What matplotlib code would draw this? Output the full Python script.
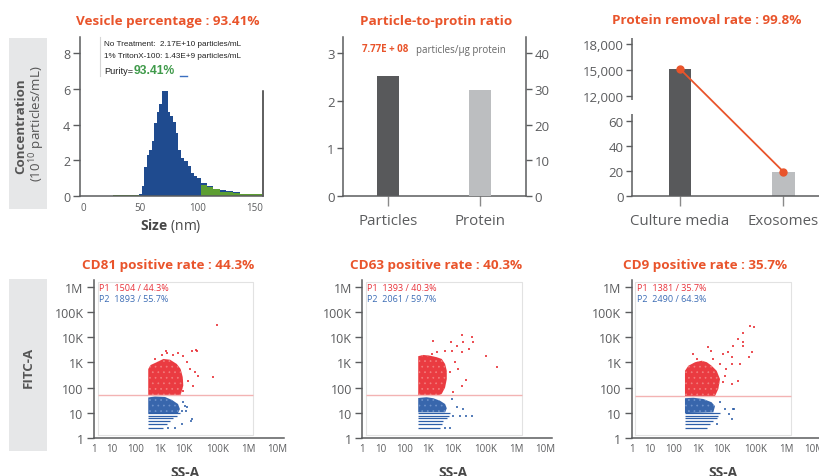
import numpy as np
import matplotlib
matplotlib.use("Agg")
import matplotlib.pyplot as plt
from matplotlib.lines import Line2D
from matplotlib.patches import Rectangle

# ---------------- data ----------------
# NTA size distribution, untreated sample (10^10 particles/mL)
vesicle_size_edges = [48.8, 51.1, 53.5, 55.5, 57.5, 59.9, 62.2, 64.3, 66.6, 68.6,
                      73.9, 75.9, 78.8, 80.9, 82.6, 85.5, 88.4, 91.4, 94.3, 96.9,
                      99.2, 103.0, 108.0, 113.2, 119.6, 125.0, 131.3, 137.1, 141.0]
vesicle_conc = [0.10, 0.58, 1.60, 2.30, 2.60, 3.10, 4.10, 4.70, 5.15, 5.85,
                4.70, 4.50, 4.15, 3.55, 2.60, 2.15, 1.98, 1.66, 1.27, 1.14,
                1.03, 0.73, 0.55, 0.40, 0.34, 0.30, 0.22, 0.10]
# after 1% TritonX-100
triton_size_edges = [26.0, 50.0, 103.0, 108.0, 113.2, 119.6, 131.3, 137.1, 156.0]
triton_conc = [0.05, 0.0, 0.63, 0.49, 0.39, 0.24, 0.17, 0.11]
size_ticks = [0, 50, 100, 150]
conc_ticks = [0, 2, 4, 6, 8]

ratio_categories = ["Particles", "Protein"]
particle_value = 2.52     # left axis
protein_value = 29.8      # right axis
ratio_left_ticks = [0, 1, 2, 3]
ratio_right_ticks = [0, 10, 20, 30, 40]

removal_categories = ["Culture media", "Exosomes"]
removal_values = [15115, 19.6]
removal_ticks = [0, 20, 40, 60, 12000, 15000, 18000]
removal_tick_labels = ["0", "20", "40", "60", "12,000", "15,000", "18,000"]

ss_ticks = [1, 10, 100, 1e3, 1e4, 1e5, 1e6, 1e7]
ss_tick_labels = ["1", "10", "100", "1K", "10K", "100K", "1M", "10M"]
fitc_ticks = [1, 10, 100, 1e3, 1e4, 1e5, 1e6]
fitc_tick_labels = ["1", "10", "100", "1K", "10K", "100K", "1M"]
stripe_log_fitc = [0.385, 0.556, 0.687, 0.795, 0.886, 0.98]

# CD81 (values in log10 units)
cd81_threshold = 51
cd81_left_log_ss = 2.51
cd81_red_core_ss = [2.51, 2.51, 2.61, 2.86, 3.14, 3.42, 3.70, 3.86, 3.95, 3.97, 3.86]
cd81_red_core_fitc = [1.71, 2.74, 2.90, 3.01, 3.14, 3.11, 2.94, 2.74, 2.41, 2.08, 1.71]
cd81_red_sparse_ss = [3.25, 3.76, 3.97, 4.23, 4.35, 4.38, 4.08, 4.18, 4.33, 4.43, 4.13, 4.28,
                      3.97, 4.87, 4.99, 3.10, 3.30, 3.55, 2.80]
cd81_red_sparse_fitc = [3.44, 3.37, 3.27, 3.47, 3.50, 3.44, 3.01, 2.74, 2.61, 2.48, 2.28, 2.08,
                        1.88, 2.41, 4.49, 3.30, 3.36, 3.30, 3.15]
cd81_blue_core_ss = [2.51, 2.79, 3.21, 3.50, 3.75, 3.83, 3.75, 2.51]
cd81_blue_core_fitc = [1.61, 1.65, 1.63, 1.51, 1.35, 1.15, 0.99, 0.97]
cd81_stripe_end_ss = [3.14, 3.28, 3.42, 3.56, 3.70, 3.83]
cd81_blue_sparse_ss = [3.97, 4.03, 4.08, 3.90, 4.06, 4.23, 4.20, 3.62, 3.35, 3.90]
cd81_blue_sparse_fitc = [1.42, 1.26, 1.22, 1.08, 1.08, 0.75, 0.69, 0.385, 0.385, 0.556]

# CD63
cd63_threshold = 51
cd63_left_log_ss = 2.58
cd63_red_core_ss = [2.58, 2.58, 2.79, 3.07, 3.35, 3.56, 3.70, 3.77, 3.77, 3.70, 3.56, 3.46]
cd63_red_core_fitc = [1.71, 3.25, 3.30, 3.27, 3.21, 3.14, 2.94, 2.67, 2.34, 2.01, 1.75, 1.71]
cd63_red_sparse_ss = [4.28, 3.18, 3.95, 4.15, 4.33, 4.58, 4.61, 3.70, 3.97, 4.30, 4.51, 5.01,
                      5.35, 4.18, 4.41, 4.28, 4.03, 3.91, 4.08, 3.14, 3.35]
cd63_red_sparse_fitc = [4.09, 3.84, 3.80, 3.64, 3.83, 4.00, 3.83, 3.47, 3.47, 3.43, 3.54, 3.27,
                        2.81, 2.74, 2.30, 2.05, 1.82, 2.61, 3.01, 3.34, 3.40]
cd63_blue_core_ss = [2.58, 2.93, 3.21, 3.49, 3.70, 3.77, 3.70, 2.58]
cd63_blue_core_fitc = [1.59, 1.62, 1.58, 1.48, 1.35, 1.18, 1.02, 1.02]
cd63_stripe_end_ss = [3.49, 3.56, 3.63, 3.77, 3.85, 3.91]
cd63_blue_sparse_ss = [4.13, 4.33, 4.03, 4.23, 4.40, 4.60, 3.91, 3.70, 3.97]
cd63_blue_sparse_fitc = [1.22, 1.15, 0.89, 0.89, 0.89, 0.89, 0.385, 0.385, 1.55]

# CD9
cd9_threshold = 46
cd9_left_log_ss = 2.47
cd9_red_core_ss = [2.47, 2.47, 2.61, 2.89, 3.17, 3.38, 3.58, 3.79, 3.93, 3.86, 3.72]
cd9_red_core_fitc = [1.66, 2.67, 2.87, 3.01, 3.07, 3.01, 2.87, 2.67, 2.34, 1.95, 1.66]
cd9_red_sparse_ss = [4.85, 4.96, 4.63, 4.50, 4.63, 4.65, 4.90, 4.82, 4.35, 4.20, 4.05, 4.30,
                     3.44, 3.54, 2.82, 2.96, 3.65, 3.93, 4.13, 4.30, 4.50, 4.30, 4.05, 4.55, 4.10]
cd9_red_sparse_fitc = [4.44, 4.41, 4.17, 3.93, 3.80, 3.67, 3.43, 3.21, 3.67, 3.40, 3.34, 3.21,
                       3.60, 3.47, 3.34, 3.14, 3.14, 2.94, 2.74, 2.94, 2.28, 2.15, 2.21, 2.94, 2.48]
cd9_blue_core_ss = [2.47, 2.82, 3.23, 3.58, 3.72, 3.65, 2.47]
cd9_blue_core_fitc = [1.58, 1.60, 1.55, 1.42, 1.26, 1.02, 0.99]
cd9_stripe_end_ss = [3.37, 3.51, 3.65, 3.79, 3.86, 3.93]
cd9_blue_sparse_ss = [4.10, 4.35, 4.23, 3.93, 4.30, 3.79, 4.38]
cd9_blue_sparse_fitc = [1.15, 1.15, 0.95, 1.42, 0.75, 0.56, 1.15]

# ---------------- style ----------------
plt.rcParams['font.family'] = ['Open Sans', 'DejaVu Sans']
plt.rcParams['mathtext.fontset'] = 'custom'
plt.rcParams['mathtext.rm'] = 'Open Sans'
plt.rcParams['mathtext.it'] = 'Open Sans:italic'
plt.rcParams['mathtext.bf'] = 'Open Sans:bold'
plt.rcParams['hatch.linewidth'] = 0.5

W, H = 820, 477
fig = plt.figure(figsize=(W / 100, H / 100), dpi=100)

ORANGE = "#e9542b"
SPINE = "#5b5c5e"
TICKC = "#5b5c5e"
LABELC = "#474747"
DARK = "#58595b"
LIGHT = "#bcbec0"
NAVY = "#1f4b8f"
GREEN = "#5d9e32"
RED = "#e8262c"
BLUE = "#2d5ea8"
PANEL_BG = "#e6e7e8"


def axes_px(x0, y0, x1, y1):
    return fig.add_axes([x0 / W, 1 - y1 / H, (x1 - x0) / W, (y1 - y0) / H])


def fig_text(x, y, s, **kw):
    return fig.text(x / W, 1 - y / H, s, **kw)


def style_spines(ax, visible):
    for name, sp in ax.spines.items():
        sp.set_visible(name in visible)
        sp.set_color(SPINE)
        sp.set_linewidth(1.1)


# gray label boxes
fig.add_artist(Rectangle((9 / W, 1 - 210 / H), 38 / W, 171 / H, transform=fig.transFigure,
                         facecolor=PANEL_BG, edgecolor='none'))
fig.add_artist(Rectangle((9 / W, 1 - 452 / H), 38 / W, 172 / H, transform=fig.transFigure,
                         facecolor=PANEL_BG, edgecolor='none'))
fig_text(21, 126, "Concentration", rotation=90, ha='center', va='center',
         fontsize=9.6, fontweight='bold', color='#555555')
fig_text(37.5, 124, r"(10$^{10}$ particles/mL)", rotation=90, ha='center', va='center',
         fontsize=9.6, color='#555555')
fig_text(28, 367, "FITC-A", rotation=90, ha='center', va='center',
         fontsize=9.5, fontweight='bold', color='#555555')

# titles
for x, y, s in [(168, 21.5, "Vesicle percentage : 93.41%"),
                (436.5, 21, "Particle-to-protin ratio"),
                (706.5, 21, "Protein removal rate : 99.8%"),
                (168, 265, "CD81 positive rate : 44.3%"),
                (436.5, 265, "CD63 positive rate : 40.3%"),
                (705.5, 265, "CD9 positive rate : 35.7%")]:
    fig_text(x, y, s, ha='center', va='center', fontsize=9.7, fontweight='bold', color=ORANGE)

# ---------------- panel 1: size distribution ----------------
ax1 = axes_px(80, 38, 263, 197)
ax1.stairs(vesicle_conc, vesicle_size_edges, fill=True, color=NAVY, linewidth=0)
ax1.stairs(triton_conc, triton_size_edges, fill=True, color=GREEN, linewidth=0)
ax1.set_xlim(-2.8, 157.2)
ax1.set_ylim(0, 8.9)
style_spines(ax1, ['left', 'bottom', 'right'])
ax1.spines['right'].set_bounds(0, 5.87)
ax1.spines['right'].set_color('#333333')
ax1.set_xticks(size_ticks)
ax1.set_yticks(conc_ticks)
ax1.tick_params(axis='x', length=0, labelsize=7, pad=4.5, labelcolor=TICKC)
ax1.tick_params(axis='y', length=5, width=1, color=SPINE, labelsize=9, pad=2, labelcolor=TICKC)
fig_text(171, 226, r"$\mathbf{Size}$ (nm)", ha='center', va='center', fontsize=10, color=LABELC)

# legend box of panel 1
fig.add_artist(Line2D([100 / W, 100 / W], [1 - 38 / H, 1 - 77 / H], transform=fig.transFigure,
                      color='#d5d5d5', lw=0.8))
leg_fam = ['Liberation Sans', 'DejaVu Sans']
lt1 = fig_text(104.5, 44.5, "No Treatment:  2.17E+10 particles/mL", family=leg_fam,
               fontsize=5.6, va='center', color='#222222')
lt2 = fig_text(104.5, 57, "1% TritonX-100: 1.43E+9 particles/mL", family=leg_fam,
               fontsize=5.6, va='center', color='#222222')
lt3 = fig_text(104.5, 71, "Purity=", family=leg_fam, fontsize=6.3, va='center', color='#222222')
lt4 = fig_text(134, 70.5, "93.41%", family=leg_fam, fontsize=8, fontweight='bold',
               va='center', color='#3f9a4a')
fig.add_artist(Line2D([180 / W, 187 / W], [1 - 76.5 / H] * 2, transform=fig.transFigure,
                      color='#3b6fc0', lw=1.0))

# ---------------- panel 2: particle-to-protein ----------------
ax2 = axes_px(343, 38, 526, 197)
ax2.bar([0], [particle_value], width=0.24, color=DARK)
ax2.set_xlim(-0.49, 1.5)
ax2.set_ylim(0, 3.34)
ax2r = ax2.twinx()
ax2r.bar([1], [protein_value], width=0.24, color=LIGHT)
ax2r.set_ylim(0, 44.5)
style_spines(ax2, ['left', 'bottom'])
style_spines(ax2r, ['right'])
ax2.set_xticks([0, 1], ratio_categories)
ax2.set_yticks(ratio_left_ticks)
ax2r.set_yticks(ratio_right_ticks)
ax2.tick_params(axis='x', length=7, width=1, color='#8a8a8a', labelsize=10.8, pad=5, labelcolor=TICKC)
ax2.tick_params(axis='y', length=4, width=1, color=SPINE, labelsize=9.5, pad=2, labelcolor=TICKC)
ax2r.tick_params(axis='y', length=4, width=1, color=SPINE, labelsize=9.5, pad=2, labelcolor=TICKC)
fig_text(362, 50, "7.77E + 08", fontsize=7, fontweight='bold', color=ORANGE, va='center')
fig_text(416, 50, "particles/\u00b5g protein", fontsize=7, color='#666666', va='center')

# ---------------- panel 3: protein removal (broken axis) ----------------
pr_val = np.array([-1000.0, 0.0, 65.6, 11538.0, 18692.0, 40000.0])
pr_off = np.array([-1250.0, 0.0, 82.0, 96.0, 158.0, 158.0 + (40000 - 18692) * 0.008667])


def pr_fwd(v):
    return np.interp(np.asarray(v, float), pr_val, pr_off)


def pr_inv(o):
    return np.interp(np.asarray(o, float), pr_off, pr_val)


ax3 = axes_px(632, 39, 820, 197)
ax3.set_yscale('function', functions=(pr_fwd, pr_inv))
ax3.bar([0, 1], removal_values, width=0.22, color=[DARK, LIGHT])
ax3.plot([0, 1], removal_values, color=ORANGE, lw=1.3, marker='o', ms=5, zorder=3)
ax3.set_xlim(-0.466, 1.357)
ax3.set_ylim(0, 18692)
style_spines(ax3, ['bottom'])
tr = ax3.get_yaxis_transform()
for lo, hi in [(0, 65.6), (11538, 18692)]:
    ax3.plot([0, 0], [lo, hi], transform=tr, color=SPINE, lw=1.1, clip_on=False,
             solid_capstyle='butt')
ax3.set_xticks([0, 1], removal_categories)
ax3.set_yticks(removal_ticks, removal_tick_labels)
ax3.minorticks_off()
ax3.tick_params(axis='x', length=7, width=1, color='#8a8a8a', labelsize=10.8, pad=5, labelcolor=TICKC)
ax3.tick_params(axis='y', length=4, width=1, color=SPINE, labelsize=9.5, pad=2, labelcolor=TICKC)

# ---------------- panels 4-6: flow cytometry ----------------
ss_dec = np.array([-3.0, 0, 1, 2, 3, 4, 5, 6, 7, 10])
ss_off = np.array([-54.0, 0, 18, 42, 66, 90, 123.5, 154.5, 183, 268.5])


def ss_fwd(v):
    v = np.asarray(v, float)
    lv = np.log10(np.where(v > 0, v, 1e-3))
    return np.interp(lv, ss_dec, ss_off)


def ss_inv(o):
    return 10 ** np.interp(np.asarray(o, float), ss_off, ss_dec)


def p(a):
    return 10 ** np.asarray(a, float)


def flow_panel(x0, width, thr, left, rc_ss, rc_f, rs_ss, rs_f, bc_ss, bc_f, st_end,
               bs_ss, bs_f, p1, p2):
    ax = axes_px(x0, 281, x0 + width, 439)
    ax.set_xscale('function', functions=(ss_fwd, ss_inv))
    ax.set_yscale('log')
    ax.set_xlim(1, float(ss_inv(width)))
    ax.set_ylim(1, 10 ** 6.277)
    # inner frame
    fx0, fx1, fy0, fy1 = p(0.2), p(6.17), p(0.12), p(6.2)
    ax.plot([fx0, fx1, fx1, fx0, fx0], [fy0, fy0, fy1, fy1, fy0], color='#e2e2e2', lw=0.8, zorder=1)
    # populations (dense cores with a faint speckle, sparse events, quantised low-FITC rows)
    ax.fill(p(rc_ss), p(rc_f), facecolor=RED, alpha=0.9, lw=0, zorder=2)
    ax.fill(p(rc_ss), p(rc_f), facecolor='none', edgecolor='#f27d7d', hatch='...', lw=0, zorder=2)
    ax.scatter(p(rs_ss), p(rs_f), s=2.6, marker='s', color=RED, alpha=0.8, lw=0, zorder=2)
    ax.fill(p(bc_ss), p(bc_f), facecolor=BLUE, alpha=0.95, lw=0, zorder=2)
    ax.fill(p(bc_ss), p(bc_f), facecolor='none', edgecolor='#6f93cc', hatch='...', lw=0, zorder=2)
    ax.hlines(p(stripe_log_fitc), p(left), p(st_end), color=BLUE, lw=0.9, zorder=2)
    ax.scatter(p(bs_ss), p(bs_f), s=2.6, marker='s', color=BLUE, alpha=0.8, lw=0, zorder=2)
    ax.hlines(thr, fx0, fx1, color='#f3b3b3', lw=1.0, zorder=3)
    style_spines(ax, ['left', 'bottom'])
    ax.set_xticks(ss_ticks, ss_tick_labels)
    ax.set_yticks(fitc_ticks, fitc_tick_labels)
    ax.minorticks_off()
    ax.tick_params(axis='x', length=0, labelsize=7, pad=3.3, labelcolor=TICKC)
    ax.tick_params(axis='y', length=5, width=1, color=SPINE, labelsize=9, pad=2.5, labelcolor=TICKC)
    fig_text(x0 + 5, 288.5, p1, fontsize=6.5, color='#e8323a', va='center')
    fig_text(x0 + 5, 299.5, p2, fontsize=6.5, color='#3d6db5', va='center')
    fig_text(x0 + 91, 473, "SS-A", ha='center', va='center', fontsize=10, fontweight='bold',
             color=LABELC)
    return ax


flow_panel(94, 190, cd81_threshold, cd81_left_log_ss, cd81_red_core_ss, cd81_red_core_fitc,
           cd81_red_sparse_ss, cd81_red_sparse_fitc, cd81_blue_core_ss, cd81_blue_core_fitc,
           cd81_stripe_end_ss, cd81_blue_sparse_ss, cd81_blue_sparse_fitc,
           "P1  1504 / 44.3%", "P2  1893 / 55.7%")
flow_panel(362.3, 190, cd63_threshold, cd63_left_log_ss, cd63_red_core_ss, cd63_red_core_fitc,
           cd63_red_sparse_ss, cd63_red_sparse_fitc, cd63_blue_core_ss, cd63_blue_core_fitc,
           cd63_stripe_end_ss, cd63_blue_sparse_ss, cd63_blue_sparse_fitc,
           "P1  1393 / 40.3%", "P2  2061 / 59.7%")
flow_panel(631.7, 188.3, cd9_threshold, cd9_left_log_ss, cd9_red_core_ss, cd9_red_core_fitc,
           cd9_red_sparse_ss, cd9_red_sparse_fitc, cd9_blue_core_ss, cd9_blue_core_fitc,
           cd9_stripe_end_ss, cd9_blue_sparse_ss, cd9_blue_sparse_fitc,
           "P1  1381 / 35.7%", "P2  2490 / 64.3%")

# fit legend text widths to the reference
renderer = fig.canvas.get_renderer()
for t, target in [(lt1, 137), (lt2, 136), (lt3, 29), (lt4, 41)]:
    w = t.get_window_extent(renderer=renderer).width
    if w > 0:
        t.set_fontsize(t.get_fontsize() * target / w)

fig.savefig("out.png", dpi=100)
